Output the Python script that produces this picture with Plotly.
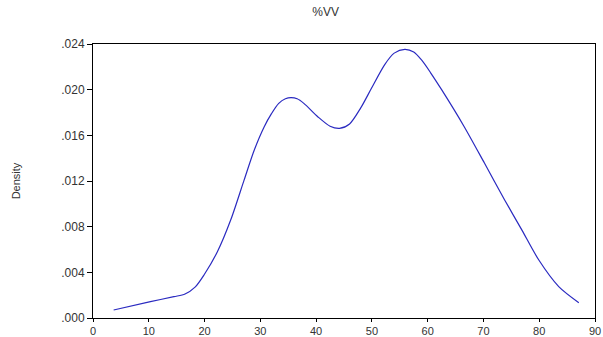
import plotly.graph_objects as go

x_vals = [3.7, 10.3, 14.5, 16.5, 18.3, 19.9, 22.3, 24.7, 27.1, 28.9, 30.7, 32.0, 33.3, 34.5,
          35.5, 36.6, 37.8, 40.3, 42.5, 44.2, 46.0, 48.0, 49.9, 52.3, 54.0, 55.9,
          57.5, 58.9, 60.5, 62.5, 66.5, 70.2, 73.8, 76.9, 79.9, 83.5, 87.1]
y_vals = [0.0007, 0.00143, 0.00187, 0.0021, 0.0027, 0.00377, 0.0058, 0.0086, 0.0121, 0.0147,
          0.01676, 0.0179, 0.0188, 0.0192, 0.0193, 0.0192, 0.0188, 0.01763, 0.0168,
          0.01661, 0.0170, 0.0184, 0.0201, 0.0222, 0.0232, 0.02353, 0.0233,
          0.0226, 0.0215, 0.0200, 0.0168, 0.01355, 0.01034, 0.0077, 0.0051, 0.00275, 0.00134]

y_tickvals = [0.0, 0.004, 0.008, 0.012, 0.016, 0.020, 0.024]
y_ticktext = [".000", ".004", ".008", ".012", ".016", ".020", ".024"]
x_tickvals = [0, 10, 20, 30, 40, 50, 60, 70, 80, 90]

fig = go.Figure()
fig.add_trace(go.Scatter(x=x_vals, y=y_vals, mode="lines",
                         line=dict(color="#2a2ac0", width=1.2, shape="spline", smoothing=0.8)))

fig.update_layout(
    width=603, height=337,
    margin=dict(l=93, r=8, t=44, b=19, autoexpand=False),
    paper_bgcolor="white", plot_bgcolor="white",
    showlegend=False,
    font=dict(family="Liberation Sans, Arial", size=12, color="#333333"),
    title=dict(text="%VV", x=0.54, xanchor="center", y=0.965, yanchor="middle",
               font=dict(size=12, color="#333333")),
    xaxis=dict(range=[0, 90], tickvals=x_tickvals, ticks="outside", ticklen=3,
               showgrid=False, zeroline=False, showline=True, linecolor="black",
               linewidth=1, mirror=True, tickcolor="black", automargin=False,
               tickfont=dict(size=11)),
    yaxis=dict(range=[0, 0.024], tickvals=y_tickvals, ticktext=y_ticktext,
               ticks="outside", ticklen=5, showgrid=False, zeroline=False,
               showline=True, linecolor="black", linewidth=1, mirror=True,
               tickcolor="black", automargin=False, tickfont=dict(size=12),
               title=dict(text="Density", font=dict(size=11), standoff=38)),
)

fig.write_html("out.html")
